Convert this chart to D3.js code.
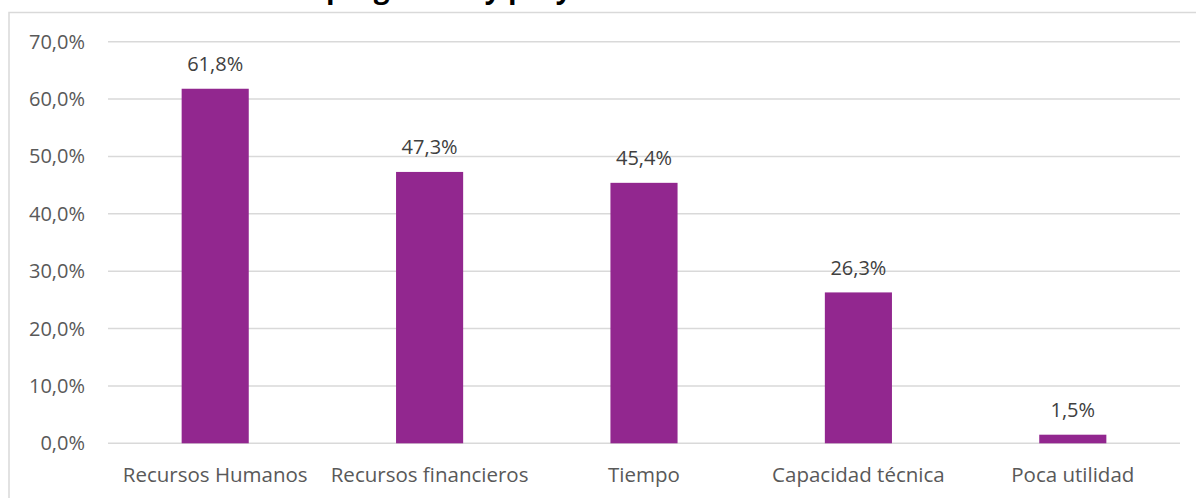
<!DOCTYPE html>
<html>
<head>
<meta charset="utf-8">
<script src="https://cdn.jsdelivr.net/npm/d3@7"></script>
<style>
	body { margin: 0; background: #fff; }
	svg { display: block; font-family: 'Open Sans', Lato, sans-serif; }
</style>
</head>
<body>
<svg id="chart" width="1196" height="498"></svg>
<script>
const categories = ['Recursos Humanos', 'Recursos financieros', 'Tiempo', 'Capacidad técnica', 'Poca utilidad'];
const values = [61.8, 47.3, 45.4, 26.3, 1.5];
const yTicks = [0, 10, 20, 30, 40, 50, 60, 70];
const title = 'programas y proyectos';

const svg = d3.select('#chart');
const fmt = (v) => v.toFixed(1).replace('.', ',') + '%';

// chart frame (only top and left edges show in the picture)
svg.append('rect')
	.attr('x', 9)
	.attr('y', 12.5)
	.attr('width', 1300)
	.attr('height', 600)
	.attr('fill', 'none')
	.attr('stroke', '#d9d9d9')
	.attr('stroke-width', 1.5);

// title, mostly cut off at the top
svg.append('text')
	.attr('x', 326)
	.attr('y', -2)
	.attr('font-size', 28)
	.attr('font-weight', 'bold')
	.attr('fill', '#000')
	.text(title);

let x = d3.scaleBand().domain(categories).range([108, 1180]);
let y = d3.scaleLinear().domain([0, 70]).range([443.3, 41.7]);

// gridlines
svg.append('g')
	.selectAll('line')
	.data(yTicks)
	.join('line')
	.attr('x1', 108)
	.attr('x2', 1180)
	.attr('y1', (d) => y(d))
	.attr('y2', (d) => y(d))
	.attr('stroke', '#d9d9d9')
	.attr('stroke-width', 1.4);

// y tick labels
svg.append('g')
	.selectAll('text')
	.data(yTicks)
	.join('text')
	.attr('x', 85)
	.attr('y', (d) => y(d))
	.attr('dy', '0.35em')
	.attr('text-anchor', 'end')
	.attr('font-size', 20)
	.attr('fill', '#595959')
	.text((d) => fmt(d));

// bars
const barW = x.bandwidth() * 0.313;
svg.append('g')
	.selectAll('rect')
	.data(values)
	.join('rect')
	.attr('x', (d, i) => x(categories[i]) + x.bandwidth() / 2 - barW / 2)
	.attr('y', (d) => y(d))
	.attr('width', barW)
	.attr('height', (d) => y(0) - y(d))
	.attr('fill', '#92278f');

// value labels
svg.append('g')
	.selectAll('text')
	.data(values)
	.join('text')
	.attr('x', (d, i) => x(categories[i]) + x.bandwidth() / 2)
	.attr('y', (d) => y(d) - 17.5)
	.attr('text-anchor', 'middle')
	.attr('font-size', 20)
	.attr('fill', '#404040')
	.text((d) => fmt(d));

// category labels
svg.append('g')
	.selectAll('text')
	.data(categories)
	.join('text')
	.attr('x', (d) => x(d) + x.bandwidth() / 2)
	.attr('y', 482)
	.attr('text-anchor', 'middle')
	.attr('font-size', 20.5)
	.attr('fill', '#595959')
	.text((d) => d);
</script>
</body>
</html>
